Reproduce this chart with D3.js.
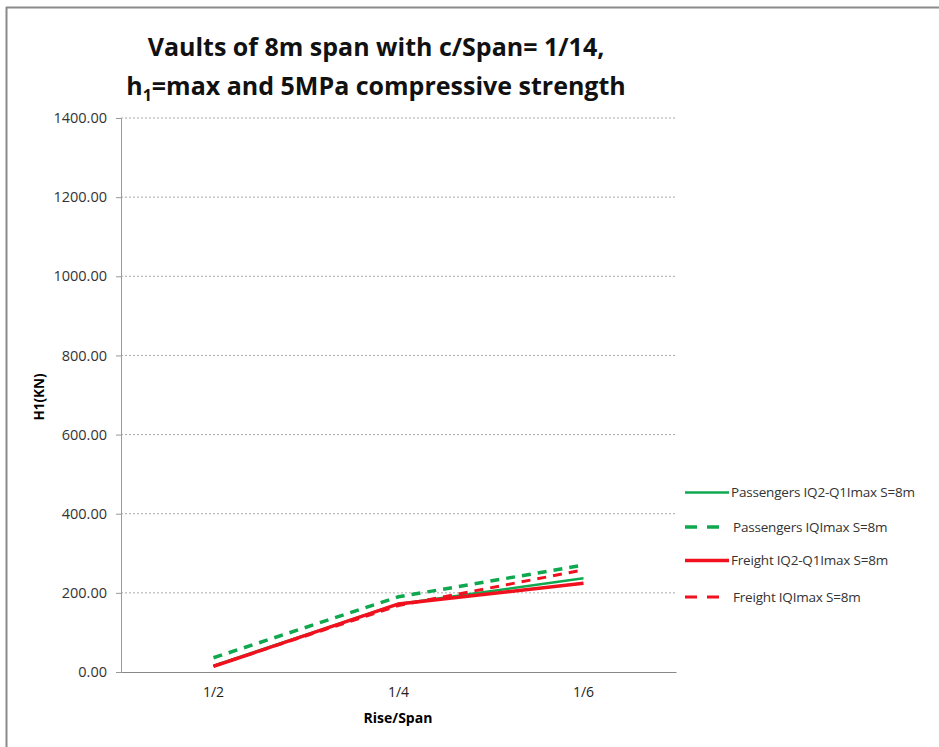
<!DOCTYPE html>
<html><head><meta charset="utf-8">
<script src="https://cdn.jsdelivr.net/npm/d3@7"></script>
<style>body{margin:0;background:#fff;}svg{display:block;}</style>
</head><body>
<svg id="c" width="939" height="747"></svg>
<script>
const categories = ["1/2", "1/4", "1/6"];
const passengersIQ2 = [16, 172, 237];
const passengersIQmax = [36, 190, 270];
const freightIQ2 = [14, 172, 224];
const freightIQmax = [15, 168, 258];
const yTicks = [0, 200, 400, 600, 800, 1000, 1200, 1400];
const seriesNames = ["Passengers IQ2-Q1Imax S=8m", "Passengers IQImax S=8m", "Freight IQ2-Q1Imax S=8m", "Freight IQImax S=8m"];

const series = [
  {name: seriesNames[0], values: passengersIQ2, color: "#10a84f", dash: null, width: 2.5},
  {name: seriesNames[1], values: passengersIQmax, color: "#10a84f", dash: "9,7", width: 3.5},
  {name: seriesNames[2], values: freightIQ2, color: "#f0101e", dash: null, width: 3.5},
  {name: seriesNames[3], values: freightIQmax, color: "#f0101e", dash: "9,7", width: 3}
];

const svg = d3.select("#c");
const font = "'Open Sans',sans-serif";
// frame
svg.append("line").attr("x1",6).attr("x2",939).attr("y1",7.5).attr("y2",7.5).attr("stroke","#8a8a8a").attr("stroke-width",2);
svg.append("line").attr("x1",6.5).attr("x2",6.5).attr("y1",7).attr("y2",747).attr("stroke","#8a8a8a").attr("stroke-width",2);

const x = d3.scaleBand().domain(categories).range([121, 676]);
const y = d3.scaleLinear().domain([0, 1400]).range([672, 118]);

// gridlines
svg.append("g").selectAll("line").data(yTicks.filter(d => d > 0)).join("line")
  .attr("x1", 121).attr("x2", 676).attr("y1", d => y(d)).attr("y2", d => y(d))
  .attr("stroke", "#a8a8a8").attr("stroke-dasharray", "2,2").attr("stroke-width", 1);

// y axis
const yAxis = svg.append("g").attr("transform", "translate(121,0)")
  .call(d3.axisLeft(y).tickValues(yTicks).tickFormat(d3.format(".2f")).tickSize(5).tickPadding(9));
yAxis.select(".domain").attr("stroke", "#999");
yAxis.selectAll(".tick line").attr("stroke", "#999");
yAxis.selectAll("text").attr("font-family", font).attr("font-size", 14.5).attr("fill", "#333");

// x axis
const xAxis = svg.append("g").attr("transform", "translate(0,672)")
  .call(d3.axisBottom(x).tickSize(0).tickPadding(15));
xAxis.select(".domain").attr("stroke", "#888");
xAxis.selectAll("text").attr("font-family", font).attr("font-size", 14).attr("fill", "#222");

// lines
const line = d3.line().x((d, i) => x(categories[i]) + x.bandwidth() / 2).y(d => y(d));
series.forEach(s => {
  svg.append("path").datum(s.values).attr("d", line).attr("fill", "none")
    .attr("stroke", s.color).attr("stroke-width", s.width)
    .attr("stroke-dasharray", s.dash);
});

// titles
svg.append("text").attr("x", 376).attr("y", 56).attr("text-anchor", "middle")
  .attr("font-family", font).attr("font-weight", "bold").attr("font-size", 25).attr("fill", "#111")
  .text("Vaults of 8m span with c/Span= 1/14,");
const t2 = svg.append("text").attr("x", 376).attr("y", 95).attr("text-anchor", "middle")
  .attr("font-family", font).attr("font-weight", "bold").attr("font-size", 25).attr("fill", "#111");
t2.append("tspan").text("h");
t2.append("tspan").attr("font-size", 16).attr("dy", 6).text("1");
t2.append("tspan").attr("dy", -6).text("=max and 5MPa compressive strength");

svg.append("text").attr("transform", "translate(44,397) rotate(-90)").attr("text-anchor", "middle")
  .attr("font-family", font).attr("font-weight", "bold").attr("font-size", 13.5).text("H1(KN)");
svg.append("text").attr("x", 398).attr("y", 723).attr("text-anchor", "middle")
  .attr("font-family", font).attr("font-weight", "bold").attr("font-size", 14).text("Rise/Span");

// legend
const lg = svg.append("g");
const ly = [492.5, 527, 560.5, 597];
series.forEach((s, i) => {
  lg.append("line").attr("x1", 685).attr("x2", s.dash ? 720 : 729).attr("y1", ly[i]).attr("y2", ly[i])
    .attr("stroke", s.color).attr("stroke-width", s.width)
    .attr("stroke-dasharray", s.dash ? "12,10" : null);
  lg.append("text").attr("x", s.dash ? 733 : 731).attr("y", ly[i] + 4.5).attr("font-family", font)
    .attr("font-size", 13.5).attr("fill", "#333").attr("letter-spacing", -0.2).text(s.name);
});
</script>
</body></html>
